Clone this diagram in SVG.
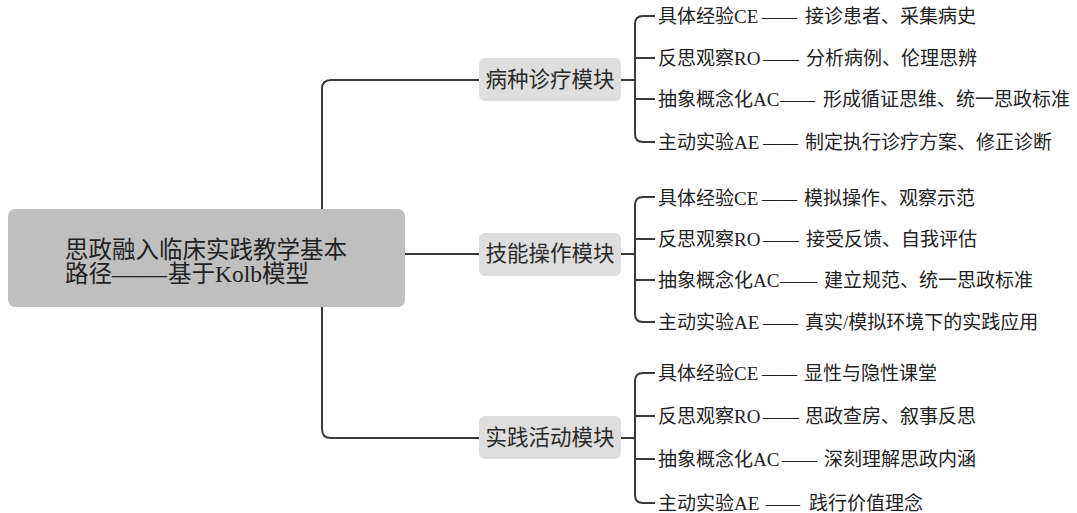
<svg xmlns="http://www.w3.org/2000/svg" width="1077" height="513" viewBox="0 0 1077 513">
<style>
text{font-family:"Liberation Serif","Noto Sans CJK SC",serif;fill:#222;dominant-baseline:central}
.root rect{fill:#bfbfbf}
.root text{font-size:23.5px}
.mod rect{fill:#dedede}
.mod text{font-size:21.5px;text-anchor:middle;fill:#2a2a2a}
.leaf text{font-size:19px}
.conn path{fill:none;stroke:#3a3a3a;stroke-width:2}
</style>
<rect width="1077" height="513" fill="#fff"/>
<g class="conn" id="connectors">
<path d="M405,254 H479"/>
<path d="M479,80 H331 Q322,80 322,89 V429 Q322,438 331,438 H479"/>
<path d="M621,80 H635"/>
<path d="M655,16 H643 Q635,16 635,24 V134 Q635,142 643,142 H655 M635,58 H655 M635,99 H655"/>
<path d="M621,254 H635"/>
<path d="M655,197 H643 Q635,197 635,205 V314 Q635,322 643,322 H655 M635,239 H655 M635,280 H655"/>
<path d="M621,438 H635"/>
<path d="M655,373 H643 Q635,373 635,381 V495 Q635,503 643,503 H655 M635,416 H655 M635,459 H655"/>
</g>
<g class="root" id="root">
<rect x="8" y="209" width="397" height="98" rx="7"/>
<text x="65" y="250">思政融入临床实践教学基本</text>
<text y="274"><tspan x="65">路径</tspan><tspan x="112" textLength="55" lengthAdjust="spacingAndGlyphs">——</tspan><tspan x="168">基于Kolb模型</tspan></text>
</g>
<g class="mod" id="m1"><rect x="479" y="58" width="142" height="43" rx="6"/><text x="550" y="80">病种诊疗模块</text></g>
<g class="mod" id="m2"><rect x="479" y="233" width="142" height="43" rx="6"/><text x="550" y="254">技能操作模块</text></g>
<g class="mod" id="m3"><rect x="479" y="416" width="142" height="43" rx="6"/><text x="550" y="438">实践活动模块</text></g>
<g class="leaf" id="l1-1"><text y="16"><tspan x="658">具体经验CE</tspan><tspan x="762" textLength="35" lengthAdjust="spacingAndGlyphs">——</tspan><tspan x="805">接诊患者、采集病史</tspan></text></g>
<g class="leaf" id="l1-2"><text y="58"><tspan x="658">反思观察RO</tspan><tspan x="763" textLength="36" lengthAdjust="spacingAndGlyphs">——</tspan><tspan x="806">分析病例、伦理思辨</tspan></text></g>
<g class="leaf" id="l1-3"><text y="99"><tspan x="658">抽象概念化AC</tspan><tspan x="780" textLength="35" lengthAdjust="spacingAndGlyphs">——</tspan><tspan x="823">形成循证思维、统一思政标准</tspan></text></g>
<g class="leaf" id="l1-4"><text y="142"><tspan x="658">主动实验AE</tspan><tspan x="763" textLength="35" lengthAdjust="spacingAndGlyphs">——</tspan><tspan x="805">制定执行诊疗方案、修正诊断</tspan></text></g>
<g class="leaf" id="l2-1"><text y="198"><tspan x="658">具体经验CE</tspan><tspan x="762" textLength="35" lengthAdjust="spacingAndGlyphs">——</tspan><tspan x="804">模拟操作、观察示范</tspan></text></g>
<g class="leaf" id="l2-2"><text y="239"><tspan x="658">反思观察RO</tspan><tspan x="763" textLength="36" lengthAdjust="spacingAndGlyphs">——</tspan><tspan x="806">接受反馈、自我评估</tspan></text></g>
<g class="leaf" id="l2-3"><text y="280"><tspan x="658">抽象概念化AC</tspan><tspan x="780" textLength="37" lengthAdjust="spacingAndGlyphs">——</tspan><tspan x="824">建立规范、统一思政标准</tspan></text></g>
<g class="leaf" id="l2-4"><text y="322"><tspan x="658">主动实验AE</tspan><tspan x="763" textLength="35" lengthAdjust="spacingAndGlyphs">——</tspan><tspan x="805">真实/模拟环境下的实践应用</tspan></text></g>
<g class="leaf" id="l3-1"><text y="373"><tspan x="658">具体经验CE</tspan><tspan x="762" textLength="35" lengthAdjust="spacingAndGlyphs">——</tspan><tspan x="804">显性与隐性课堂</tspan></text></g>
<g class="leaf" id="l3-2"><text y="416"><tspan x="658">反思观察RO</tspan><tspan x="763" textLength="36" lengthAdjust="spacingAndGlyphs">——</tspan><tspan x="805">思政查房、叙事反思</tspan></text></g>
<g class="leaf" id="l3-3"><text y="459"><tspan x="658">抽象概念化AC</tspan><tspan x="782" textLength="35" lengthAdjust="spacingAndGlyphs">——</tspan><tspan x="824">深刻理解思政内涵</tspan></text></g>
<g class="leaf" id="l3-4"><text y="503"><tspan x="658">主动实验AE</tspan><tspan x="766" textLength="34" lengthAdjust="spacingAndGlyphs">——</tspan><tspan x="809">践行价值理念</tspan></text></g>
</svg>
